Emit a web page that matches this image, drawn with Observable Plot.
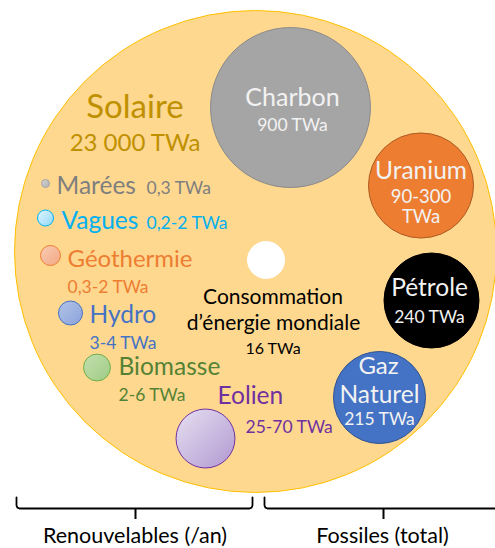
<!DOCTYPE html>
<html>
<head>
<meta charset="utf-8">
<script src="https://cdn.jsdelivr.net/npm/d3@7"></script>
<script src="https://cdn.jsdelivr.net/npm/@observablehq/plot@0.6"></script>
<style>
  html, body { margin: 0; padding: 0; background: #fff; }
  #chart svg { display: block; }
</style>
</head>
<body>
<div id="chart"></div>
<script>
// ---- data ----
const categories = ["Solaire", "Charbon", "Uranium", "Pétrole", "Gaz Naturel", "Consommation", "Eolien", "Biomasse", "Hydro", "Géothermie", "Vagues", "Marées"];
// bubble size as drawn (estimated TWa represented by each bubble's volume)
const bubbleValues = [23000, 840, 238, 176, 160, 10.4, 42, 4.0, 2.84, 1.64, 0.84, 0.105];
const nameLabels = ["Solaire", "Marées", "Vagues", "Géothermie", "Hydro", "Biomasse", "Eolien", "Charbon", "Uranium", "Pétrole", "Gaz", "Naturel", "Consommation", "d’énergie mondiale"];
const valueLabels = ["23 000 TWa", "0,3 TWa", "0,2-2 TWa", "0,3-2 TWa", "3-4 TWa", "2-6 TWa", "25-70 TWa", "900 TWa", "90-300", "TWa", "240 TWa", "215 TWa", "16 TWa"];
const groupLabels = ["Renouvelables (/an)", "Fossiles (total)"];

// ---- layout (chart units) ----
const bubbleX = [255, 290, 420.5, 431, 379, 265.5, 205, 96.5, 70, 50, 45, 45];
const bubbleY = [251, 107, 185, 300, 397, 259.5, 438, 367, 312.5, 255, 217.5, 183];
const bubbleFill = ["#fed88f", "#a5a5a5", "#ed7d31", "#000000", "#4472c4", "#ffffff", "url(#gEol)", "url(#gBio)", "url(#gHydro)", "url(#gGeo)", "url(#gVag)", "url(#gMar)"];
const bubbleStroke = ["#ffc000", "#8a8a8a", "#ae5a21", "#000000", "#2f528f", "#ffffff", "#7030a0", "#70ad47", "#4472c4", "#ed7d31", "#00b0f0", "#a5a5a5"];

const nameX = [134.5, 56, 61, 67, 89, 118, 217, 292, 420.5, 429, 378, 379, 272.5, 273];
const nameY = [117, 193, 228, 266, 322, 374, 403, 105, 178, 295, 373, 402, 303, 329];
const nameSize = [33, 24.5, 24.5, 24, 24.5, 24.5, 24.5, 25, 24.5, 24.5, 24, 24.5, 21, 21];
const nameAnchor = ["middle", "start", "start", "start", "start", "start", "start", "middle", "middle", "middle", "middle", "middle", "middle", "middle"];
const nameColor = ["#bf9000", "#7f7f7f", "#00b0f0", "#ed7d31", "#4472c4", "#548235", "#7030a0", "#f2f2f2", "#f2f2f2", "#f2f2f2", "#f2f2f2", "#f2f2f2", "#000000", "#000000"];

const valueX = [134.5, 146, 146, 67, 89, 118, 245, 292, 420.5, 420.5, 429, 379, 272.5];
const valueY = [150, 193, 228, 292, 348, 400, 432, 130, 202, 222, 322, 424, 353];
const valueSize = [24, 17.5, 17.5, 17.5, 17.5, 17.5, 17.5, 17.5, 18.5, 18.5, 17.5, 17.5, 16];
const valueAnchor = ["middle", "start", "start", "start", "start", "start", "start", "middle", "middle", "middle", "middle", "middle", "middle"];
const valueColor = ["#bf9000", "#7f7f7f", "#00b0f0", "#ed7d31", "#4472c4", "#548235", "#7030a0", "#f2f2f2", "#f2f2f2", "#f2f2f2", "#f2f2f2", "#f2f2f2", "#000000"];

// braces: [left, right, tick, top, bar, tickEnd]
const braces = [[16, 252, 135, 497, 508, 519], [264, 500, 383, 497, 508, 519]];
const groupX = [134.5, 382];
const groupY = [542, 542];

// ---- build ----
const bubbles = categories.map((c, i) => ({c, v: bubbleValues[i], x: bubbleX[i], y: bubbleY[i], fill: bubbleFill[i], stroke: bubbleStroke[i]}));
const names = nameLabels.map((t, i) => ({t, x: nameX[i], y: nameY[i], s: nameSize[i], a: nameAnchor[i], f: nameColor[i]}));
const values = valueLabels.map((t, i) => ({t, x: valueX[i], y: valueY[i], s: valueSize[i], a: valueAnchor[i], f: valueColor[i]}));
const groups = groupLabels.map((t, i) => ({t, x: groupX[i], y: groupY[i]}));

const bracePaths = [];
const braceTicks = [];
braces.forEach(([l, r, m, top, bar, end], k) => {
  const pts = [[l, top], [l, bar - 3], [l + 0.9, bar - 0.9], [l + 3, bar], [r - 3, bar], [r - 0.9, bar - 0.9], [r, bar - 3], [r, top]];
  pts.forEach(([x, y]) => bracePaths.push({k, x, y}));
  braceTicks.push({x: m, y1: bar, y2: end});
});

function textMark(data, extra = {}) {
  return ["start", "middle", "end"].map(anchor =>
    Plot.text(data.filter(d => d.a === anchor), {
      x: "x", y: "y", text: "t", fill: "f",
      fontSize: "s", textAnchor: anchor, lineAnchor: "bottom",
      fontFamily: "Lato", ...extra
    })
  );
}

const chart = Plot.plot({
  width: 495,
  height: 548,
  margin: 0,
  x: {domain: [0, 495], range: [0, 495], axis: null},
  y: {domain: [0, 548], range: [0, 548], axis: null},
  r: {type: "pow", exponent: 1 / 3, domain: [0, 23000], range: [0, 241]},
  color: {type: "identity"},
  style: {fontFamily: "Lato", background: "#ffffff", overflow: "visible"},
  marks: [
    Plot.dot(bubbles, {x: "x", y: "y", r: "v", fill: "fill", stroke: "stroke", strokeWidth: 1, fillOpacity: 1}),
    ...textMark(names),
    ...textMark(values),
    Plot.line(bracePaths, {x: "x", y: "y", z: "k", stroke: "#000", strokeWidth: 1.8, curve: "linear"}),
    Plot.ruleX(braceTicks, {x: "x", y1: "y1", y2: "y2", stroke: "#000", strokeWidth: 2}),
    Plot.text(groups, {x: "x", y: "y", text: "t", fill: "#000", fontSize: 21.5, textAnchor: "middle", lineAnchor: "bottom", fontFamily: "Lato"})
  ]
});

// gradients
const gradients = [
  ["gMar", "#d4d4d4", "#b0b0b0"],
  ["gVag", "#e3f6fe", "#8ed8f7"],
  ["gGeo", "#f9cdb3", "#f2a784"],
  ["gHydro", "#b3c3e8", "#8ba3db"],
  ["gBio", "#c3dfaf", "#9fcc85"],
  ["gEol", "#e6e0f1", "#b198d1"]
];
const defs = d3.select(chart).insert("defs", ":first-child");
gradients.forEach(([id, c0, c1]) => {
  const g = defs.append("linearGradient").attr("id", id).attr("x1", 0).attr("y1", 0).attr("x2", 1).attr("y2", 1);
  g.append("stop").attr("offset", "0%").attr("stop-color", c0);
  g.append("stop").attr("offset", "100%").attr("stop-color", c1);
});

document.getElementById("chart").appendChild(chart);
</script>
</body>
</html>
